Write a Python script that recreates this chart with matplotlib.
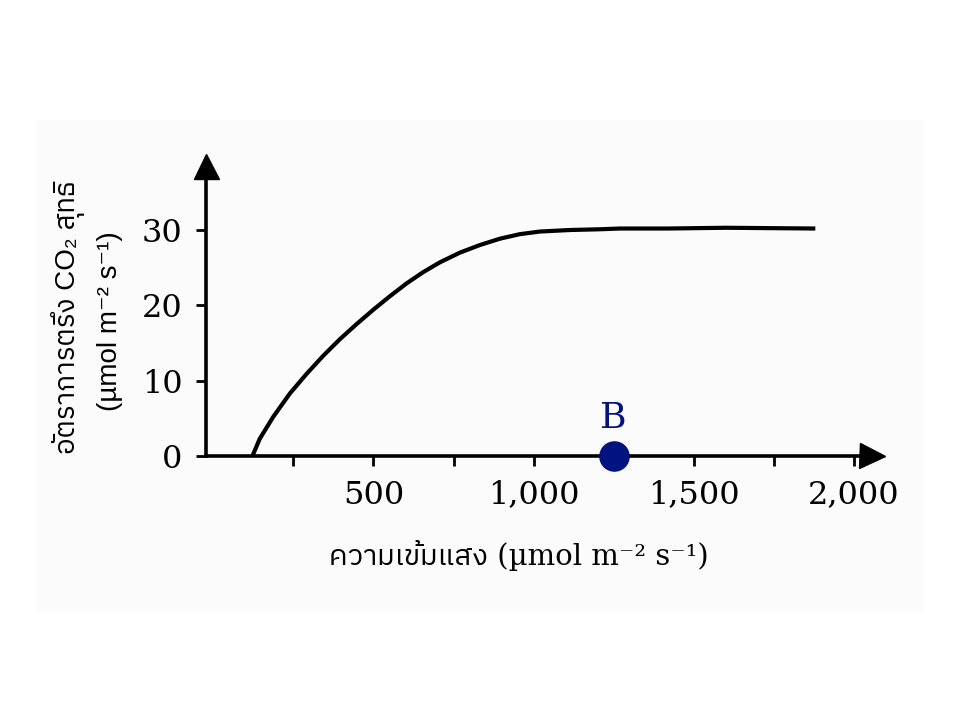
import matplotlib
matplotlib.use("Agg")
import matplotlib.pyplot as plt
from matplotlib import font_manager
from matplotlib.ft2font import FT2Font
from matplotlib.patches import Rectangle

# ข้อมูลจากกราฟ
light = [122, 145, 187, 239, 291, 343, 395, 447, 499, 551, 603, 655, 707, 770, 832, 895,
         957, 1020, 1113, 1207, 1270, 1418, 1600, 1880]
co2_rate = [0, 2.3, 5.2, 8.3, 10.9, 13.3, 15.5, 17.5, 19.4, 21.2, 22.9, 24.4, 25.7, 27.0,
            28.0, 28.85, 29.45, 29.8, 30.0, 30.1, 30.2, 30.2, 30.3, 30.2]
point_b = (1250, 0)
x_ticks = [500, 1000, 1500, 2000]
x_minor = [250, 750, 1250, 1750]
y_ticks = [0, 10, 20, 30]
x_labels = ["500", "1,000", "1,500", "2,000"]


def find_thai_font():
    # หาฟอนต์ที่มีอักษรไทย
    fonts = sorted(font_manager.fontManager.ttflist, key=lambda f: "Thai" not in f.name)
    for f in fonts:
        try:
            if 0x0E01 in FT2Font(f.fname).get_charmap():
                return f.name
        except Exception:
            pass
    return "DejaVu Sans"


thai = find_thai_font()
navy = "#00137f"

fig = plt.figure(figsize=(9.6, 7.2), dpi=100)
fig.patches.append(Rectangle((37 / 960, 1 - 610 / 720), 885 / 960, 490 / 720,
                             transform=fig.transFigure, color="#fafbfa", zorder=-10))
ax = fig.add_axes([206 / 960, 1 - 456 / 720, 666 / 960, 290 / 720])
ax.patch.set_alpha(0)

ax.plot(light, co2_rate, color="black", lw=3, solid_capstyle="butt", solid_joinstyle="round")
ax.plot(*point_b, "o", color=navy, ms=21, clip_on=False, zorder=5)
ax.text(point_b[0], 2.8, "B", color=navy, fontsize=26, family="DejaVu Serif",
        ha="center", va="bottom")

ax.set_xlim(-23, 2057)
ax.set_ylim(0, 38.5)
for s in ["top", "right"]:
    ax.spines[s].set_visible(False)
for s in ["left", "bottom"]:
    ax.spines[s].set_linewidth(2.6)
ax.plot(1, 0, ">", color="black", ms=18, transform=ax.transAxes, clip_on=False)
ax.plot(0, 1, "^", color="black", ms=18, transform=ax.transAxes, clip_on=False)

ax.set_xticks(x_ticks, x_labels)
ax.set_xticks(x_minor, minor=True)
ax.set_yticks(y_ticks)
ax.tick_params(which="both", length=7, width=2, direction="out")
ax.tick_params(axis="x", pad=10)
ax.tick_params(axis="y", pad=10)
for lab in ax.get_xticklabels() + ax.get_yticklabels():
    lab.set_family("DejaVu Serif")
    lab.set_fontsize(23)

fig.text(519 / 960, 1 - 565 / 720, "ความเข้มแสง (µmol m⁻² s⁻¹)", ha="center",
         va="baseline", fontsize=21, family=["DejaVu Serif", thai])
fig.text(68 / 960, 1 - 317 / 720, "อัตราการตรึง CO₂ สุทธิ", rotation=90,
         ha="center", va="center", fontsize=20, family=["Liberation Sans", thai, "DejaVu Sans"])
fig.text(110 / 960, 1 - 321 / 720, "(µmol m⁻² s⁻¹)", rotation=90,
         ha="center", va="center", fontsize=20, family=["Liberation Sans", "DejaVu Sans"])

fig.savefig("out.png", dpi=100)
